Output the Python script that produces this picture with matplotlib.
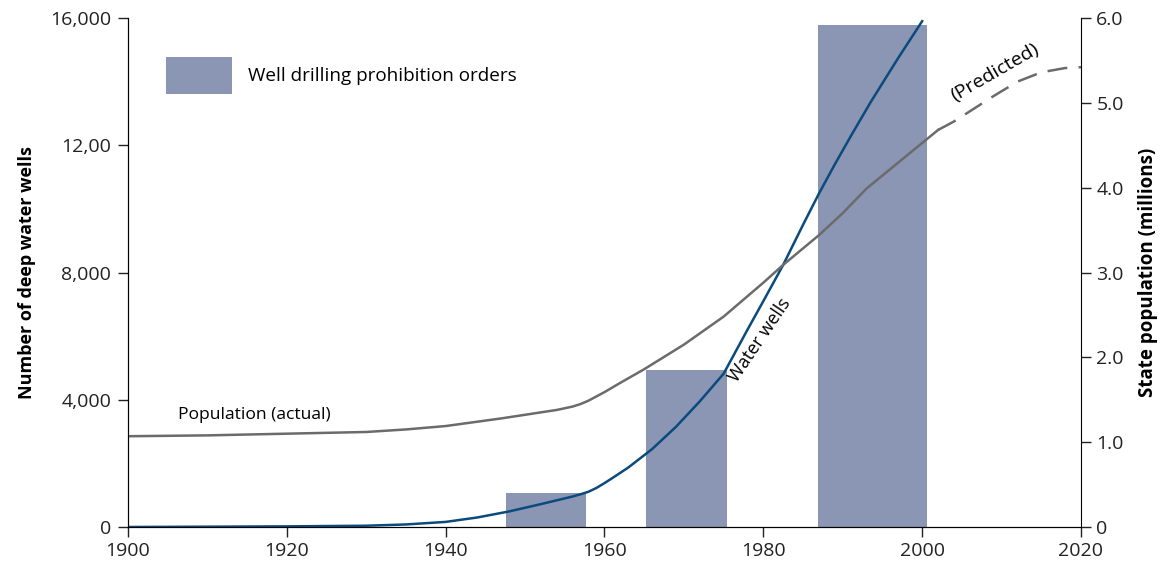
import numpy as np
import matplotlib.pyplot as plt

plt.rcParams['font.family'] = ['Open Sans', 'DejaVu Sans']

# water wells (count)
well_years = [1900, 1910, 1920, 1930, 1935, 1940, 1944, 1948, 1952, 1955, 1956, 1957,
              1958, 1959, 1960, 1961, 1963, 1966, 1969, 1972, 1975, 1978, 1980, 1982.5,
              1985, 1987, 1989, 1991, 1993.5, 1997, 2000]
well_counts = [0, 10, 20, 40, 80, 160, 300, 490, 720, 900, 960, 1030,
               1110, 1230, 1380, 1540, 1870, 2450, 3150, 3950, 4820, 6200, 7100, 8240,
               9500, 10480, 11400, 12280, 13350, 14750, 15900]

# state population (millions)
pop_years = [1900, 1910, 1920, 1930, 1935, 1940, 1947, 1954, 1956, 1957, 1958, 1959,
             1960, 1962, 1965, 1970, 1975, 1980, 1982.5, 1987, 1990, 1993, 1996, 1999,
             2002]
pop_values = [1.07, 1.08, 1.10, 1.12, 1.15, 1.19, 1.28, 1.38, 1.42, 1.45, 1.49, 1.54,
              1.59, 1.70, 1.86, 2.15, 2.48, 2.88, 3.09, 3.44, 3.70, 3.99, 4.22, 4.45,
              4.68]
pred_years = [2002, 2004, 2006, 2009, 2012, 2015, 2018, 2020]
pred_values = [4.68, 4.78, 4.90, 5.08, 5.25, 5.36, 5.41, 5.42]

# well drilling prohibition orders
order_start = [1947.6, 1965.2, 1986.9]
order_end = [1957.7, 1975.4, 2000.6]
order_height = [1070, 4940, 15790]

bar_color = '#8a96b4'
well_color = '#0b4a7c'
pop_color = '#6b6b6b'

fig = plt.figure(figsize=(11.71, 5.67), dpi=100)
ax = fig.add_axes([128 / 1171, 40 / 567, 953 / 1171, 509 / 567])
ax2 = ax.twinx()

widths = [e - s for s, e in zip(order_start, order_end)]
ax.bar(order_start, order_height, width=widths, align='edge', color=bar_color,
       label='Well drilling prohibition orders', zorder=1)
ax.plot(well_years, well_counts, color=well_color, lw=1.8, zorder=3)

ax2.plot(pop_years, pop_values, color=pop_color, lw=1.8)
ax2.plot(pred_years, pred_values, color=pop_color, lw=1.8, dashes=[8, 4.5])

ax.set_xlim(1900, 2020)
ax.set_ylim(0, 16000)
ax2.set_ylim(0, 6)

ax.set_xticks([1900, 1920, 1940, 1960, 1980, 2000, 2020])
ax.set_yticks([0, 4000, 8000, 12000, 16000])
ax.set_yticklabels(['0', '4,000', '8,000', '12,00', '16,000'])
ax2.set_yticks([0, 1, 2, 3, 4, 5, 6])
ax2.set_yticklabels(['0', '1.0', '2.0', '3.0', '4.0', '5.0', '6.0'])

for a in (ax, ax2):
    a.spines['top'].set_visible(False)
    a.tick_params(direction='out', length=7, width=1, labelsize=14, colors='#222222')
ax.tick_params(axis='y', pad=5)
ax.tick_params(axis='x', pad=4)
ax2.tick_params(axis='y', pad=4)
ax.spines['right'].set_visible(False)

ax.set_ylabel('Number of deep water wells', fontsize=13, fontweight='bold', labelpad=10)
ax2.set_ylabel('State population (millions)', fontsize=13.5, fontweight='bold', labelpad=10)

ax.text(1915.9, 3520, 'Population (actual)', fontsize=12.6, ha='center', va='center')
ax.text(1979.6, 5880, 'Water wells', fontsize=13, ha='center', va='center', rotation=56)
ax.text(2009.2, 14280, '(Predicted)', fontsize=14, ha='center', va='center', rotation=30)

ax.legend(loc='upper left', bbox_to_anchor=(0.04, 0.923), frameon=False, fontsize=13.6,
          handlelength=3.5, handleheight=2.65, handletextpad=0.85, borderpad=0,
          borderaxespad=0)

fig.savefig('out.png', dpi=100)
